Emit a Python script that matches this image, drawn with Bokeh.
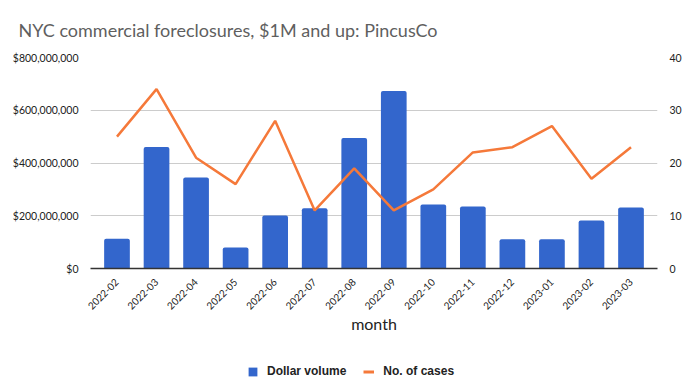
import math
from bokeh.plotting import figure
from bokeh.layouts import column
from bokeh.models import (FactorRange, Range1d, LinearAxis, FixedTicker,
                          NumeralTickFormatter, Legend, LegendItem, ColumnDataSource)
from bokeh.embed import file_html
from bokeh.resources import INLINE

months = ["2022-02", "2022-03", "2022-04", "2022-05", "2022-06", "2022-07", "2022-08",
          "2022-09", "2022-10", "2022-11", "2022-12", "2023-01", "2023-02", "2023-03"]
dollar_volume = [113e6, 461e6, 345e6, 80e6, 201e6, 228e6, 495e6,
                 673e6, 243e6, 235e6, 111e6, 111e6, 182e6, 231e6]
cases = [25, 34, 21, 16, 28, 11, 19, 11, 15, 22, 23, 27, 17, 23]
volume_ticks = [0, 200e6, 400e6, 600e6, 800e6]
case_ticks = [0, 10, 20, 30, 40]

FONT = "Lato"
BLUE = "#3366cc"
ORANGE = "#f5793a"
src = ColumnDataSource(dict(month=months, volume=dollar_volume, cases=cases))

p = figure(width=690, height=360,
           x_range=FactorRange(factors=months, range_padding=0.17, range_padding_units="absolute"),
           y_range=Range1d(0, 800e6),
           output_backend="svg", toolbar_location=None,
           min_border_left=90, min_border_right=33, min_border_top=56, min_border_bottom=92,
           title="NYC commercial foreclosures, $1M and up: PincusCo")
p.extra_y_ranges = {"cases": Range1d(0, 40)}
p.outline_line_color = None

p.title.text_font = FONT
p.title.text_font_size = "18px"
p.title.text_font_style = "normal"
p.title.text_color = "#5f5f5f"
p.title.offset = -72
p.title.standoff = 33

p.vbar(x="month", top="volume", width=0.65, source=src, fill_color=BLUE,
       line_color=None, border_radius=(2, 2, 0, 0))
p.line(x="month", y="cases", y_range_name="cases", source=src,
       line_color=ORANGE, line_width=2.5)

p.xgrid.visible = False
p.ygrid.ticker = FixedTicker(ticks=volume_ticks)
p.ygrid.grid_line_color = "#cccccc"

yl = p.yaxis[0]
yl.ticker = FixedTicker(ticks=volume_ticks)
yl.formatter = NumeralTickFormatter(format="$0,0")
yl.axis_line_color = None
yl.major_tick_line_color = None
yl.minor_tick_line_color = None
yl.major_label_standoff = 6
yl.major_label_text_font = FONT
yl.major_label_text_font_size = "10.5px"
yl.major_label_text_color = "#222222"

yr = LinearAxis(y_range_name="cases", ticker=FixedTicker(ticks=case_ticks))
yr.axis_line_color = None
yr.major_tick_line_color = None
yr.minor_tick_line_color = None
yr.major_label_standoff = 6
yr.major_label_text_font = FONT
yr.major_label_text_font_size = "10.5px"
yr.major_label_text_color = "#222222"
p.add_layout(yr, "right")

xa = p.xaxis[0]
xa.axis_label = "month"
xa.axis_label_text_font = FONT
xa.axis_label_text_font_size = "16px"
xa.axis_label_text_font_style = "normal"
xa.axis_label_text_color = "#222222"
xa.axis_label_standoff = -2
xa.axis_line_color = "#333333"
xa.axis_line_width = 1.5
xa.major_tick_line_color = None
xa.minor_tick_line_color = None
xa.major_label_orientation = math.pi / 4
xa.major_label_standoff = 6
xa.major_label_text_font = FONT
xa.major_label_text_font_size = "10px"
xa.major_label_text_color = "#222222"

# legend strip below the chart (its y range lies far above the data, so only the legend shows)
lf = figure(width=690, height=22, output_backend="svg", toolbar_location=None,
            x_range=FactorRange(factors=months), y_range=Range1d(1e10, 2e10),
            min_border_left=90, min_border_right=33, min_border_top=0, min_border_bottom=0)
lf.axis.visible = False
lf.grid.visible = False
lf.outline_line_color = None
lb = lf.vbar(x="month", top="volume", width=0.5, source=src, fill_color=BLUE, line_color=None)
ll = lf.line(x="month", y="cases", source=src, line_color=ORANGE, line_width=3)
legend = Legend(items=[LegendItem(label="Dollar volume", renderers=[lb]),
                       LegendItem(label="No. of cases", renderers=[ll])],
                orientation="horizontal", location=(157, 4),
                padding=0, spacing=17, label_standoff=9, margin=0,
                glyph_width=11, glyph_height=11,
                label_text_font="Liberation Sans", label_text_font_style="bold",
                label_text_font_size="12px", label_text_color="#222222",
                border_line_color=None, background_fill_alpha=0)
lf.add_layout(legend, "center")

open("out.html", "w").write(file_html(column(p, lf, spacing=0), INLINE))
